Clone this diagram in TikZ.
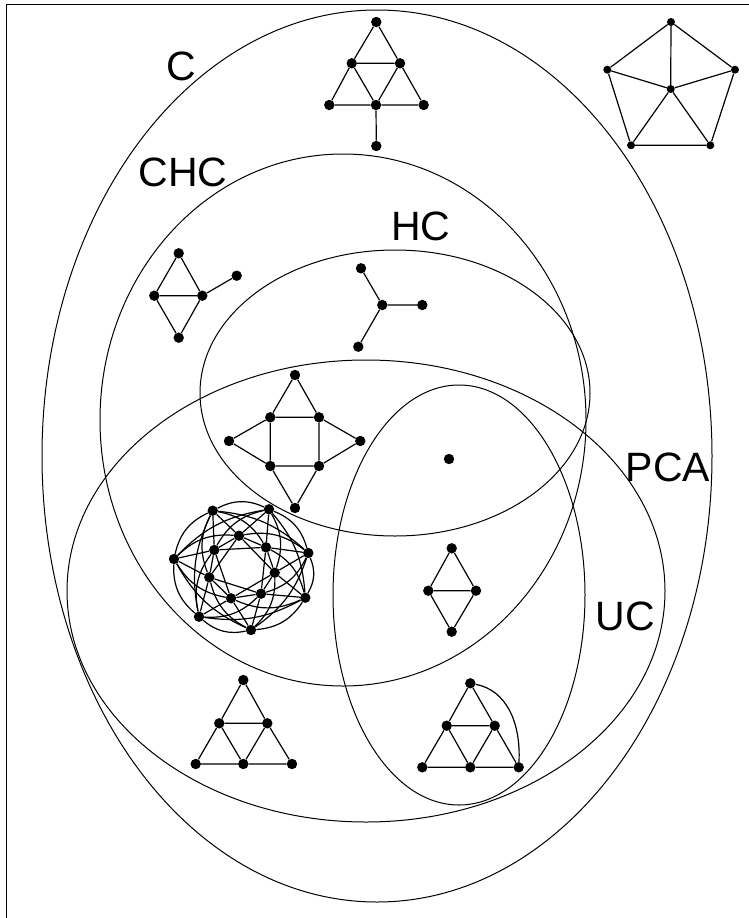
\documentclass[tikz,border=0pt]{standalone}
\usepackage{fontspec}
\setmainfont{Liberation Sans}
\begin{document}
\begin{tikzpicture}[x=1pt,y=-1pt,
  ring/.style={line width=1pt},
  edge/.style={line width=1.2pt},
  vtx/.style={circle,fill=black,inner sep=0pt,minimum size=10.4pt},
  vtxs/.style={circle,fill=black,inner sep=0pt,minimum size=8pt},
  lbl/.style={font=\fontsize{41}{48}\selectfont,inner sep=0pt}]
\useasboundingbox (0,0) rectangle (749,918);
% frame
\coordinate (fTL) at (6,4);
\coordinate (fTR) at (749,4);
\coordinate (fBL) at (6,918);
\draw[line width=1pt] (fBL) -- (fTL) -- (fTR);

% class regions
\draw[ring] (377,456) ellipse [x radius=335pt, y radius=446pt];  % C
\draw[ring] (343,420) ellipse [x radius=243pt, y radius=266pt];  % CHC
\draw[ring] (395,393) ellipse [x radius=195pt, y radius=143pt];  % HC
\draw[ring] (366,591) ellipse [x radius=299pt, y radius=231pt];  % PCA
\draw[ring] (459,595) ellipse [x radius=126pt, y radius=210pt];  % UC

% class names
\node[lbl] (lC)   at (181,66)  {C};
\node[lbl] (lCHC) at (183,172) {CHC};
\node[lbl] (lHC)  at (421,226) {HC};
\node[lbl] (lPCA) at (668,467) {PCA};
\node[lbl] (lUC)  at (625,616) {UC};

% triangle with pendant (top)
\node[vtx] (t1) at (376.3,22) {};
\node[vtx] (t2) at (351.7,63.3) {};
\node[vtx] (t3) at (400,63.3) {};
\node[vtx] (t4) at (329.3,105) {};
\node[vtx] (t5) at (376,105) {};
\node[vtx] (t6) at (423.7,105) {};
\node[vtx] (t7) at (376.3,146) {};
\draw[edge] (t1)--(t2) (t1)--(t3) (t2)--(t3) (t2)--(t4) (t2)--(t5)
  (t3)--(t5) (t3)--(t6) (t4)--(t5) (t5)--(t6) (t5)--(t7);

% wheel W5
\node[vtxs] (w0) at (671,22) {};
\node[vtxs] (w1) at (607.3,69.7) {};
\node[vtxs] (w2) at (735,69.7) {};
\node[vtxs] (w3) at (631,145.3) {};
\node[vtxs] (w4) at (710.3,145.3) {};
\node[vtxs] (wc) at (670.7,89) {};
\draw[edge] (w0)--(w1)--(w3)--(w4)--(w2)--(w0);
\foreach \k in {0,...,4}{\draw[edge] (wc)--(w\k);}

% diamond with pendant
\node[vtx] (c1) at (178.7,253.3) {};
\node[vtx] (c2) at (154.3,295.7) {};
\node[vtx] (c3) at (202.3,295.7) {};
\node[vtx] (c4) at (178.7,337.7) {};
\node[vtx] (c5) at (236.7,275.7) {};
\draw[edge] (c1)--(c2) (c1)--(c3) (c2)--(c3) (c2)--(c4) (c3)--(c4) (c3)--(c5);

% claw
\node[vtx] (h0) at (382.3,305) {};
\node[vtx] (h1) at (361,268.3) {};
\node[vtx] (h2) at (422.3,305) {};
\node[vtx] (h3) at (358.3,346.7) {};
\draw[edge] (h0)--(h1) (h0)--(h2) (h0)--(h3);

% square with four triangles
\node[vtx] (s0) at (295,375) {};
\node[vtx] (s1) at (270.3,417.3) {};
\node[vtx] (s2) at (319,417.3) {};
\node[vtx] (s3) at (229,441) {};
\node[vtx] (s4) at (360.3,441) {};
\node[vtx] (s5) at (270.3,466) {};
\node[vtx] (s6) at (319,466) {};
\node[vtx] (s7) at (295,508) {};
\draw[edge] (s0)--(s1) (s0)--(s2) (s1)--(s2) (s1)--(s5) (s2)--(s6) (s5)--(s6)
  (s3)--(s1) (s3)--(s5) (s4)--(s2) (s4)--(s6) (s7)--(s5) (s7)--(s6);

% single vertex
\node[vtx] (k1) at (449,459) {};

% diamond
\node[vtx] (d0) at (451.7,548.3) {};
\node[vtx] (d1) at (428.3,590.7) {};
\node[vtx] (d2) at (476,590.7) {};
\node[vtx] (d3) at (451.7,631.7) {};
\draw[edge] (d0)--(d1) (d0)--(d2) (d1)--(d2) (d1)--(d3) (d2)--(d3);

% 3-sun (bottom left)
\node[vtx] (b1) at (243.3,680) {};
\node[vtx] (b2) at (219.3,723.3) {};
\node[vtx] (b3) at (267.3,723.3) {};
\node[vtx] (b4) at (195.7,764) {};
\node[vtx] (b5) at (243.3,764) {};
\node[vtx] (b6) at (292,764) {};
\draw[edge] (b1)--(b2) (b1)--(b3) (b2)--(b3) (b2)--(b4) (b2)--(b5)
  (b3)--(b5) (b3)--(b6) (b4)--(b5) (b5)--(b6);

% 3-sun plus one chord (bottom right)
\node[vtx] (r1) at (470.3,683.3) {};
\node[vtx] (r2) at (446.7,725.7) {};
\node[vtx] (r3) at (494.7,725.7) {};
\node[vtx] (r4) at (422.3,767.3) {};
\node[vtx] (r5) at (470.3,767.3) {};
\node[vtx] (r6) at (518.7,767.3) {};
\draw[edge] (r1)--(r2) (r1)--(r3) (r2)--(r3) (r2)--(r4) (r2)--(r5)
  (r3)--(r5) (r3)--(r6) (r4)--(r5) (r5)--(r6);
\draw[edge] (r1) .. controls (506,690) and (521,722) .. (r6);

% 14-vertex circulant-like graph
\node[vtx] (q0)  at (212.7,510.7) {};
\node[vtx] (q1)  at (239,535.7) {};
\node[vtx] (q2)  at (269,509.3) {};
\node[vtx] (q3)  at (266,547.3) {};
\node[vtx] (q4)  at (308.3,553) {};
\node[vtx] (q5)  at (274.7,572.7) {};
\node[vtx] (q6)  at (305.3,597.7) {};
\node[vtx] (q7)  at (261,593.7) {};
\node[vtx] (q8)  at (251,630) {};
\node[vtx] (q9)  at (231,598.3) {};
\node[vtx] (q10) at (199,616.7) {};
\node[vtx] (q11) at (209.3,577.3) {};
\node[vtx] (q12) at (174,559) {};
\node[vtx] (q13) at (214.3,550) {};
\foreach \i in {0,...,13}{
  \pgfmathtruncatemacro{\ja}{mod(\i+1,14)}
  \pgfmathtruncatemacro{\jb}{mod(\i+2,14)}
  \pgfmathtruncatemacro{\jc}{mod(\i+3,14)}
  \pgfmathtruncatemacro{\jd}{mod(\i+4,14)}
  \draw[edge] (q\i) -- (q\ja);
  \draw[edge] (q\i) to[bend left=24] (q\jc);
  \ifodd\i\relax
    \draw[edge] (q\i) -- (q\jb);
    \draw[edge] (q\i) -- (q\jd);
  \else
    \draw[edge] (q\i) to[bend left=26] (q\jb);
    \draw[edge] (q\i) to[bend left=18] (q\jd);
  \fi
}
\end{tikzpicture}
\end{document}
